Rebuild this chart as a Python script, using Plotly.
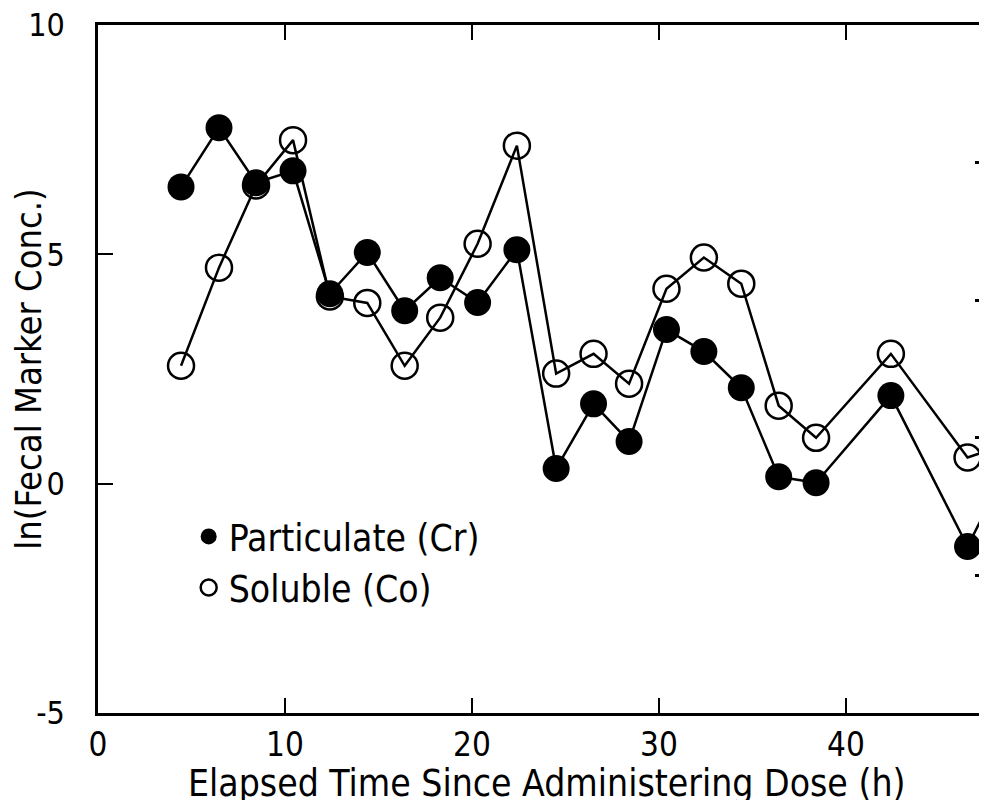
import plotly.graph_objects as go

# Data
time_cr = [4.44, 6.47, 8.45, 10.43, 12.4, 14.4, 16.4, 18.3, 20.3, 22.4,
           24.5, 26.5, 28.4, 30.4, 32.4, 34.4, 36.4, 38.4, 42.4, 46.5, 48.5]
particulate_cr = [6.47, 7.76, 6.56, 6.82, 4.14, 5.04, 3.77, 4.49, 3.95, 5.10,
                  0.33, 1.74, 0.92, 3.36, 2.88, 2.09, 0.15, 0.02, 1.92, -1.37, 0.25]

time_co = [4.44, 6.47, 8.45, 10.43, 12.4, 14.4, 16.4, 18.3, 20.3, 22.4,
           24.5, 26.5, 28.4, 30.4, 32.4, 34.4, 36.4, 38.4, 42.4, 46.5, 48.5]
soluble_co = [2.57, 4.71, 6.5, 7.49, 4.08, 3.94, 2.57, 3.62, 5.23, 7.37,
              2.40, 2.83, 2.18, 4.25, 4.93, 4.36, 1.70, 1.00, 2.83, 0.57, 0.85]

x_ticks = [0, 10, 20, 30, 40]
y_ticks = [-5, 0, 5, 10]
y_ticktext = ["-5", "0", "5", "10"]
x_title = "Elapsed Time Since Administering Dose (h)"
y_title = "ln(Fecal Marker Conc.)"

FONT = "DejaVu Sans Condensed"

fig = go.Figure()
fig.add_trace(go.Scatter(
    x=time_co, y=soluble_co, mode="lines+markers", name="Soluble (Co)",
    line=dict(color="black", width=2.5),
    marker=dict(symbol="circle-open", size=26, color="black", line=dict(width=2.5)),
    showlegend=False,
))
fig.add_trace(go.Scatter(
    x=time_cr, y=particulate_cr, mode="lines+markers", name="Particulate (Cr)",
    line=dict(color="black", width=2.5),
    marker=dict(symbol="circle", size=27, color="black"),
    showlegend=False,
))
# legend entries (marker only)
fig.add_trace(go.Scatter(
    x=[None], y=[None], mode="markers", name="Soluble (Co)",
    marker=dict(symbol="circle-open", size=26, color="black", line=dict(width=2.5)),
    legendgroup="co", yaxis="y2",
))
fig.add_trace(go.Scatter(
    x=[None], y=[None], mode="markers", name="Particulate (Cr)",
    marker=dict(symbol="circle", size=27, color="black"),
    legendgroup="cr",
))

fig.update_layout(
    width=979, height=792,
    margin=dict(l=90, r=0, t=17, b=87, autoexpand=False),
    paper_bgcolor="white", plot_bgcolor="white",
    font=dict(family=FONT, color="black"),
    showlegend=True,
    legend=dict(
        x=0.102, y=0.301, xanchor="left", yanchor="top",
        traceorder="reversed", tracegroupgap=3,
        font=dict(size=37, family=FONT), bgcolor="rgba(0,0,0,0)",
    ),
    xaxis=dict(
        range=[0, 47.54], tickvals=x_ticks, ticks="inside", ticklen=15,
        tickwidth=2, tickcolor="black", showline=True, linecolor="black",
        linewidth=2.5, mirror="ticks", showgrid=False, zeroline=False,
        tickfont=dict(size=33, family=FONT), ticklabelstandoff=1,
        ticklabeloverflow="allow", automargin=False,
    ),
    yaxis=dict(
        range=[-5, 10], tickvals=y_ticks, ticktext=y_ticktext, ticks="inside",
        ticklen=15, tickwidth=2, tickcolor="black", showline=True,
        linecolor="black", linewidth=2.5, showgrid=False, zeroline=False,
        tickfont=dict(size=32, family=FONT), ticklabelstandoff=24,
        ticklabeloverflow="allow", automargin=False,
        title=dict(text=y_title, font=dict(size=36, family=FONT), standoff=2),
    ),
    yaxis2=dict(
        range=[0, 5], dtick=1, overlaying="y", side="right", anchor="x",
        ticks="inside", ticklen=12, tickwidth=2.5, tickcolor="black",
        showticklabels=False, showline=False, showgrid=False, zeroline=False,
        automargin=False,
    ),
    annotations=[dict(
        text=x_title, xref="paper", yref="paper", x=0.5056, y=-0.1025,
        xanchor="center", yanchor="middle", showarrow=False,
        font=dict(size=37, family=FONT, color="black"),
    )],
)

fig.write_html("out.html")
